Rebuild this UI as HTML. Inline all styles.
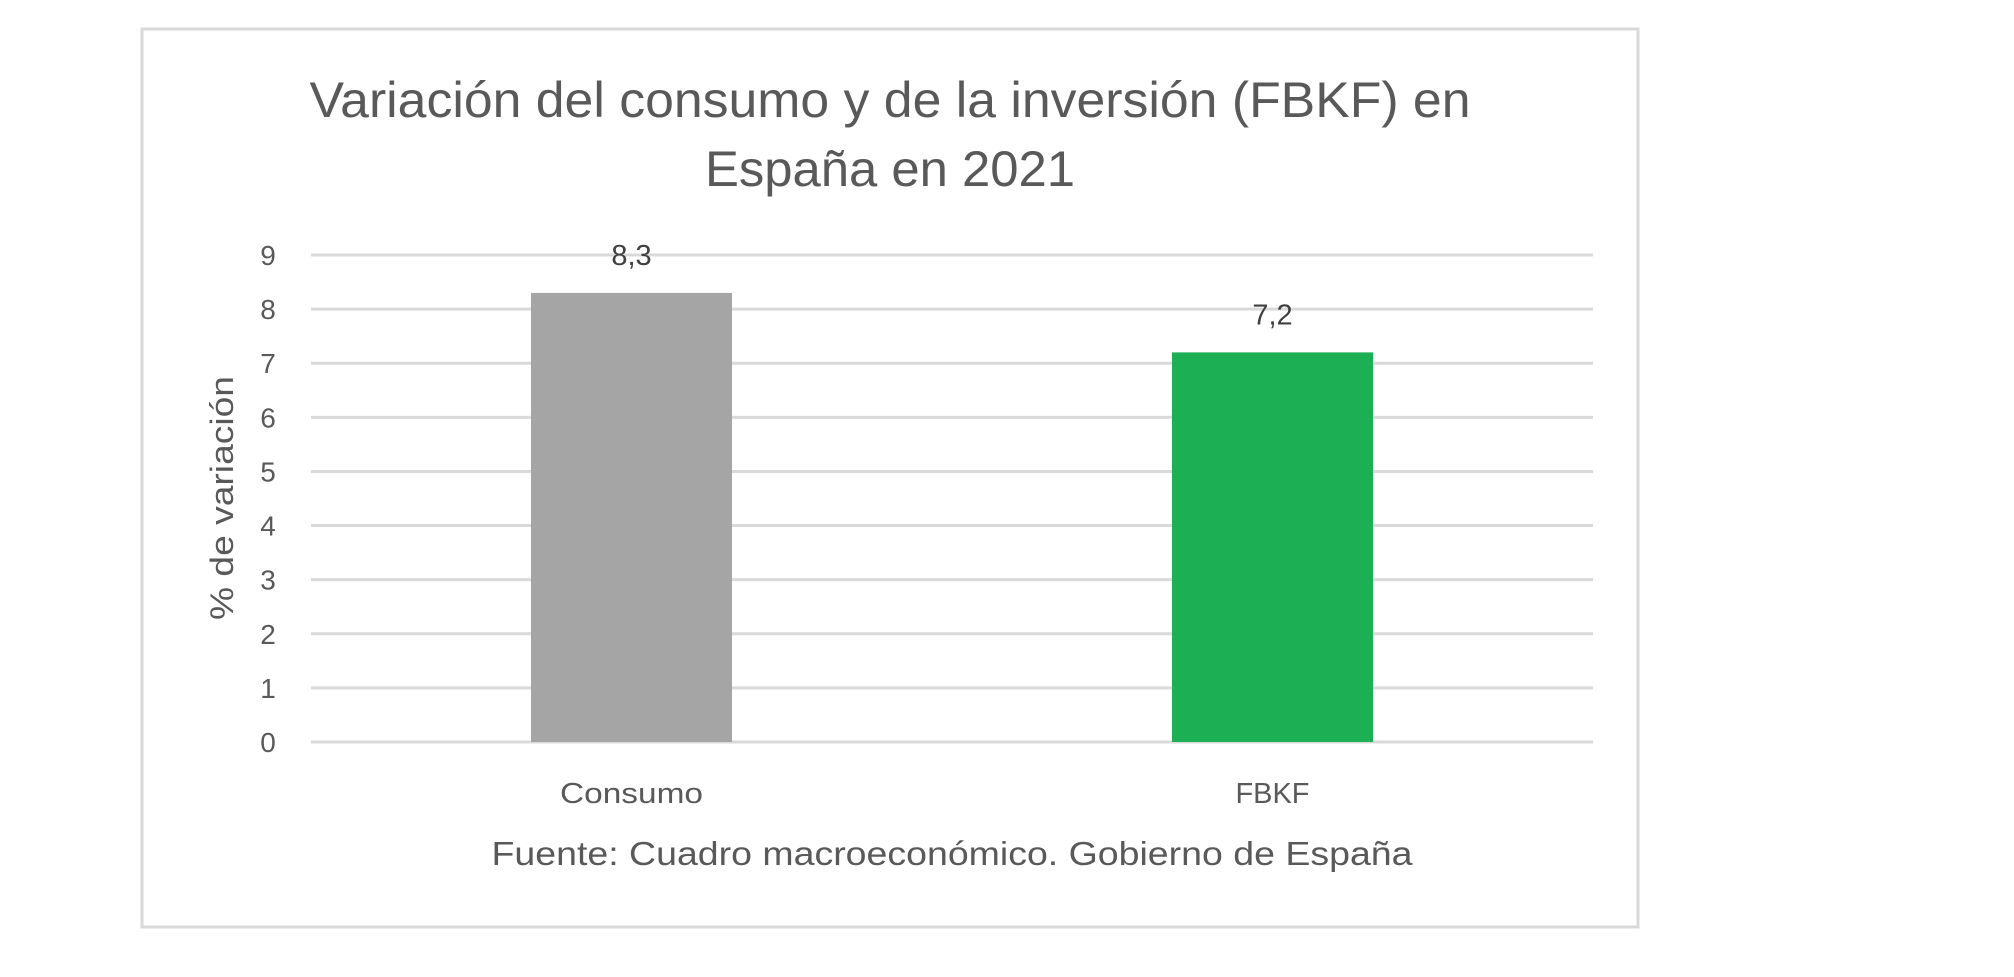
<!DOCTYPE html>
<html><head><meta charset="utf-8"><style>
html,body{margin:0;padding:0;background:#fff;}
body{width:2014px;height:972px;overflow:hidden;font-family:"Liberation Sans",sans-serif;}
</style></head><body>
<svg id="chart" width="2014" height="972" xmlns="http://www.w3.org/2000/svg" font-family="Liberation Sans, sans-serif">
<rect x="142" y="29" width="1496" height="898" fill="#fff" stroke="#d9d9d9" stroke-width="3"/>
<text x="890" y="117" text-anchor="middle" font-size="50" fill="#595959" textLength="1161" lengthAdjust="spacingAndGlyphs">Variación del consumo y de la inversión (FBKF) en</text>
<text x="890" y="186" text-anchor="middle" font-size="50" fill="#595959" textLength="370" lengthAdjust="spacingAndGlyphs">España en 2021</text>
<text transform="translate(233,498) rotate(-90)" text-anchor="middle" font-size="32" fill="#595959" textLength="244" lengthAdjust="spacingAndGlyphs">% de variación</text>
<g id="grid"></g><g id="bars"></g>
<text x="952" y="865" text-anchor="middle" font-size="33" fill="#595959" textLength="921" lengthAdjust="spacingAndGlyphs">Fuente: Cuadro macroeconómico. Gobierno de España</text>
</svg>
<script>
const categories = ["Consumo","FBKF"];
const values = [8.3,7.2];
const valueLabels = ["8,3","7,2"];
const yTicks = [0,1,2,3,4,5,6,7,8,9];
const colors = ["#a5a5a5","#1caf54"];
const NS="http://www.w3.org/2000/svg";
const x0=311,x1=1593,yTop=255,yBot=742,yMax=9;
function y(v){return yBot-(v/yMax)*(yBot-yTop);}
function xc(i){return x0+(x1-x0)*(i+0.5)/categories.length;}
const bw=201;
const catLens=[143,74];
const grid=document.getElementById('grid'),bars=document.getElementById('bars');
function mk(tag,attrs,parent,text){const e=document.createElementNS(NS,tag);for(const k in attrs)e.setAttribute(k,attrs[k]);if(text!==undefined)e.textContent=text;parent.appendChild(e);return e;}
yTicks.forEach(t=>{
  const l=mk('line',{x1:x0,x2:x1,y1:y(t),y2:y(t),stroke:'#d9d9d9','stroke-width':3},grid);
  
  
  const tx=mk('text',{x:268,y:y(t)+10,'text-anchor':'middle','font-size':28,fill:'#595959'},grid,String(t));
  
  
});
categories.forEach((c,i)=>{
  const r=mk('rect',{x:xc(i)-bw/2,y:y(values[i]),width:bw,height:yBot-y(values[i]),fill:colors[i]},bars);
  
  
  const vl=mk('text',{x:xc(i),y:y(values[i])-28,'text-anchor':'middle','font-size':29,fill:'#404040'},bars,valueLabels[i]);
  
  
  const cl=mk('text',{x:xc(i),y:803,'text-anchor':'middle','font-size':29,fill:'#595959',textLength:catLens[i],lengthAdjust:'spacingAndGlyphs'},bars,c);
  
  
});
</script>
</body></html>
